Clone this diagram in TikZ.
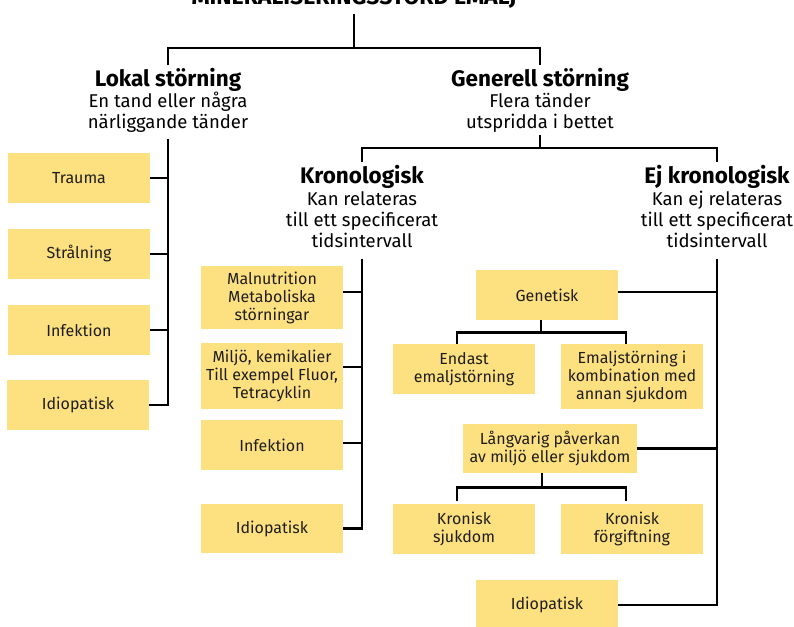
\documentclass[tikz,border=0pt]{standalone}
\usepackage{fontspec}
\setmainfont{Fira Sans}
\definecolor{boxy}{HTML}{FDE07F}
\definecolor{ink}{HTML}{1E1E1E}
\begin{document}
\begin{tikzpicture}[x=1pt,y=-1pt,
  ln/.style={line width=2.6pt, draw=black},
  bx/.style={fill=boxy, text=ink, inner sep=0pt, minimum width=142pt, align=center, font=\fontsize{16}{18}\selectfont},
  hd/.style={font=\bfseries\fontsize{22.5}{24}\selectfont, text=black, inner xsep=0pt, inner ysep=3pt, anchor=base},
  sb/.style={font=\fontsize{18.5}{21}\selectfont, text=black, inner sep=0pt, align=center, anchor=base},
  tt/.style={font=\bfseries\fontsize{23}{26}\selectfont, text=black, inner sep=0pt, anchor=base}
]
\useasboundingbox (0,0) rectangle (794,626);
\clip (0,0) rectangle (794,626);

% title and headings
\node[tt] (title) at (354,5) {MINERALISERINGSSTÖRD EMALJ};
\node[hd] (lokal) at (168,86) {Lokal störning};
\node[sb] (lokalsub) at (168,128) {En tand eller några\\närliggande tänder\strut};
\node[hd] (gen) at (540,86) {Generell störning};
\node[sb] (gensub) at (540,128) {Flera tänder\\utspridda i bettet\strut};
\node[hd] (krono) at (362,183) {Kronologisk};
\node[sb] (kronosub) at (362,247) {Kan relateras\\till ett specificerat\\tidsintervall\strut};
\node[hd] (ej) at (717,183) {Ej kronologisk};
\node[sb] (ejsub) at (717,247) {Kan ej relateras\\till ett specificerat\\tidsintervall\strut};

% local boxes
\node[bx, minimum height=50pt] (trauma) at (79,178) {Trauma};
\node[bx, minimum height=50pt] (stral) at (79,254) {Strålning};
\node[bx, minimum height=50pt] (infL) at (79,330) {Infektion};
\node[bx, minimum height=50pt] (idioL) at (78,405) {Idiopatisk};

% chronological boxes
\node[bx, minimum height=63pt] (mal) at (272,297.5) {Malnutrition\\Metaboliska\\störningar};
\node[bx, minimum height=66pt] (miljo) at (272,376) {Miljö, kemikalier\\Till exempel Fluor,\\Tetracyklin};
\node[bx, minimum height=50pt] (infK) at (272,445) {Infektion};
\node[bx, minimum height=49pt] (idioK) at (272,528.5) {Idiopatisk};

% non-chronological boxes
\node[bx, minimum height=50pt] (genetisk) at (547,295) {Genetisk};
\node[bx, minimum height=50pt] (endast) at (464,369) {Endast\\emaljstörning};
\node[bx, minimum height=65pt] (emalj) at (632,376.5) {Emaljstörning i\\kombination med\\annan sjukdom};
\node[bx, minimum height=49pt, minimum width=174pt] (lang) at (550,448.5) {Långvarig påverkan\\av miljö eller sjukdom};
\node[bx, minimum height=50pt] (ksjuk) at (464,529) {Kronisk\\sjukdom};
\node[bx, minimum height=50pt] (kforg) at (632,529) {Kronisk\\förgiftning};
\node[bx, minimum height=50pt] (idioE) at (547,605) {Idiopatisk};

% top tree
\coordinate (j0) at (354,48);
\coordinate (j1) at (540,148);
\draw[ln] ([yshift=-5pt]title.south) -- (j0);
\draw[ln] (lokal.north) |- (j0) -| (gen.north);
\draw[ln] (gensub.south) -- (j1);
\draw[ln] (krono.north) |- (j1) -| (ej.north);

% local trunk
\draw[ln] ([yshift=-4pt]lokalsub.south) |- (idioL.east);
\draw[ln] (trauma.east) -- (trauma.east -| lokalsub.south);
\draw[ln] (stral.east) -- (stral.east -| lokalsub.south);
\draw[ln] (infL.east) -- (infL.east -| lokalsub.south);

% chronological trunk
\coordinate (malc) at ([yshift=5.5pt]mal.east);
\coordinate (miljoc) at ([yshift=9pt]miljo.east);
\coordinate (infKc) at ([yshift=2pt]infK.east);
\draw[ln] ([yshift=-5pt]kronosub.south) |- (idioK.east);
\draw[ln] (malc) -- (malc -| kronosub.south);
\draw[ln] (miljoc) -- (miljoc -| kronosub.south);
\draw[ln] (infKc) -- (infKc -| kronosub.south);

% non-chronological trunk
\coordinate (genc) at ([yshift=3pt]genetisk.east);
\draw[ln] ([yshift=-5pt]ejsub.south) |- (idioE.east);
\draw[ln] (genc) -- (genc -| ejsub.south);
\draw[ln] (lang.east) -- (lang.east -| ejsub.south);

% genetisk subtree
\coordinate (gs) at ([xshift=-6pt]genetisk.south);
\coordinate (gj) at ([xshift=-6pt,yshift=-12pt]genetisk.south);
\draw[ln] (gs) -- (gj);
\draw[ln] ([xshift=-7pt]endast.north) |- (gj) -| ([xshift=-6pt]emalj.north);

% langvarig subtree
\coordinate (ls) at ([xshift=-8pt]lang.south);
\coordinate (lj) at ([xshift=-8pt,yshift=-14pt]lang.south);
\draw[ln] (ls) -- (lj);
\draw[ln] ([xshift=-7pt,yshift=3pt]ksjuk.north) |- (lj) -| ([xshift=-6pt,yshift=3pt]kforg.north);
\end{tikzpicture}
\end{document}
